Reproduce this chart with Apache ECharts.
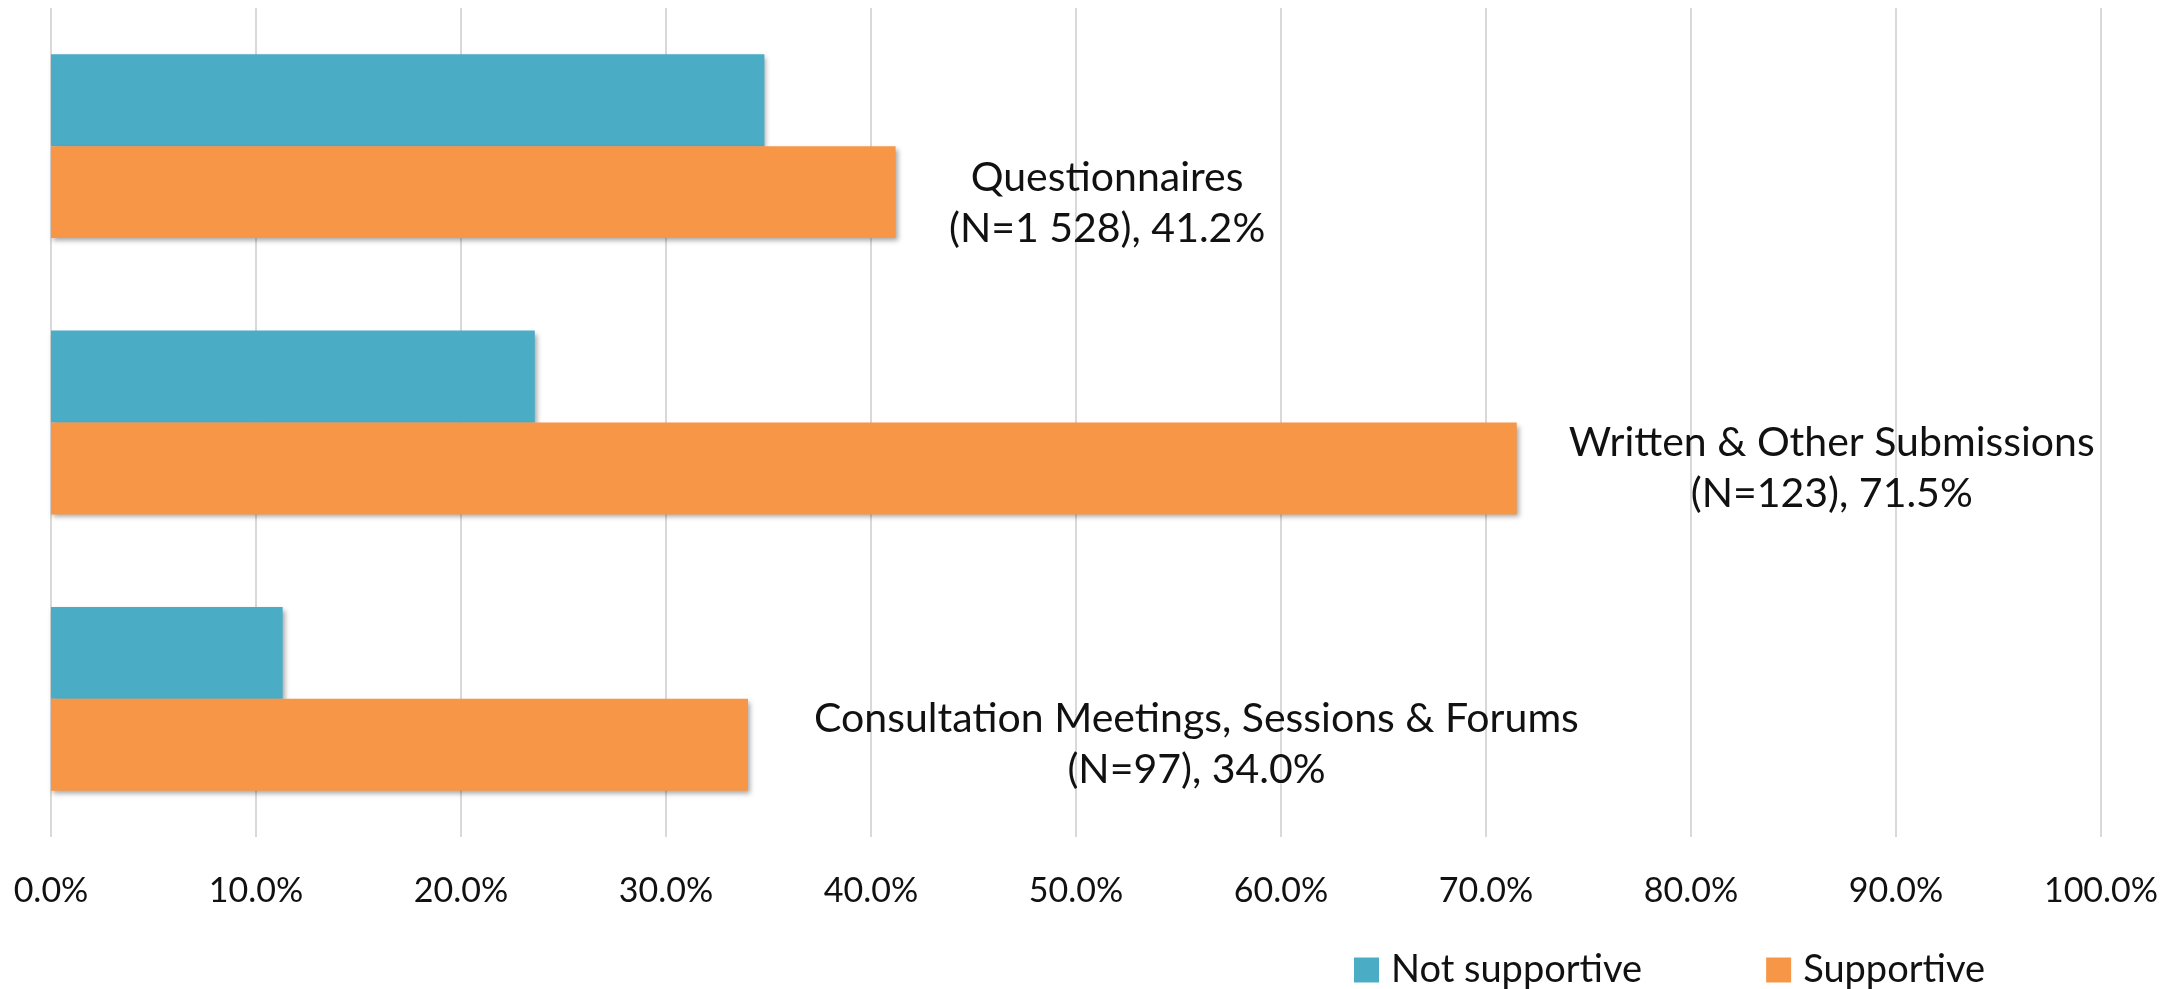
<!DOCTYPE html>
<html>
<head>
<meta charset="utf-8">
<script src="https://cdn.jsdelivr.net/npm/echarts@6/dist/echarts.min.js"></script>
<style>
  html, body { margin: 0; padding: 0; background: #fff; }
  #chart { width: 2180px; height: 989px; }
</style>
</head>
<body>
<div id="chart"></div>
<script>
var categories = ['Questionnaires', 'Written & Other Submissions', 'Consultation Meetings, Sessions & Forums'];
var sampleSizes = ['1 528', '123', '97'];
var notSupportive = [34.8, 23.6, 11.3];
var supportive = [41.2, 71.5, 34.0];
var tickValues = [0, 10, 20, 30, 40, 50, 60, 70, 80, 90, 100];

var FONT = 'Lato';
var LABEL_SIZE = 41;

// the labels were nudged by hand in the original
var labelOffsets = [[-14, 11], [-15, 0], [-1, 0]];

// measure text so both label lines can be centred on each other
var ctx = document.createElement('canvas').getContext('2d');
ctx.font = LABEL_SIZE + 'px ' + FONT;
function textWidth(s) { return Math.ceil(ctx.measureText(s).width); }

var supportiveData = supportive.map(function (v, i) {
    var line1 = categories[i];
    var line2 = '(N=' + sampleSizes[i] + '), ' + v.toFixed(1) + '%';
    var w = Math.max(textWidth(line1), textWidth(line2)) + 4;
    return {
        value: v,
        label: {
            offset: labelOffsets[i],
            formatter: '{c|' + line1 + '}\n{c|' + line2 + '}',
            rich: { c: { width: w, align: 'center', fontFamily: FONT, fontSize: LABEL_SIZE, color: '#111', lineHeight: 51 } }
        }
    };
});

var chart = echarts.init(document.getElementById('chart'));

var shadow = {
    shadowColor: 'rgba(0,0,0,0.35)',
    shadowBlur: 5,
    shadowOffsetX: 2,
    shadowOffsetY: 3
};

chart.setOption({
    animation: false,
    textStyle: { fontFamily: FONT },
    grid: { left: 51, right: 79, top: 8, bottom: 152, containLabel: false },
    legend: {
        left: 1349,
        top: 946,
        icon: 'rect',
        itemWidth: 25,
        itemHeight: 25,
        itemGap: 124,
        textStyle: { fontFamily: FONT, fontSize: 38, color: '#111', padding: [0, 0, 0, 7] },
        data: ['Not supportive', 'Supportive']
    },
    xAxis: {
        type: 'value',
        min: 0,
        max: 100,
        interval: 10,
        axisLine: { show: false },
        axisTick: { show: false },
        splitLine: { lineStyle: { color: '#d9d9d9', width: 2 } },
        axisLabel: {
            margin: 37,
            fontFamily: FONT,
            fontSize: 34,
            color: '#111',
            formatter: function (v) { return tickValues.indexOf(v) >= 0 ? v.toFixed(1) + '%' : ''; }
        }
    },
    yAxis: {
        type: 'category',
        inverse: true,
        data: categories,
        axisLine: { show: false },
        axisTick: { show: false },
        axisLabel: { show: false },
        splitLine: { show: false }
    },
    series: [
        {
            name: 'Not supportive',
            type: 'bar',
            data: notSupportive,
            barGap: '0%',
            barCategoryGap: '33.5%',
            itemStyle: Object.assign({ color: '#4BACC6' }, shadow)
        },
        {
            name: 'Supportive',
            type: 'bar',
            data: supportiveData,
            itemStyle: Object.assign({ color: '#F79646' }, shadow),
            label: { show: true, position: 'right', distance: 65 }
        }
    ]
});
</script>
</body>
</html>
